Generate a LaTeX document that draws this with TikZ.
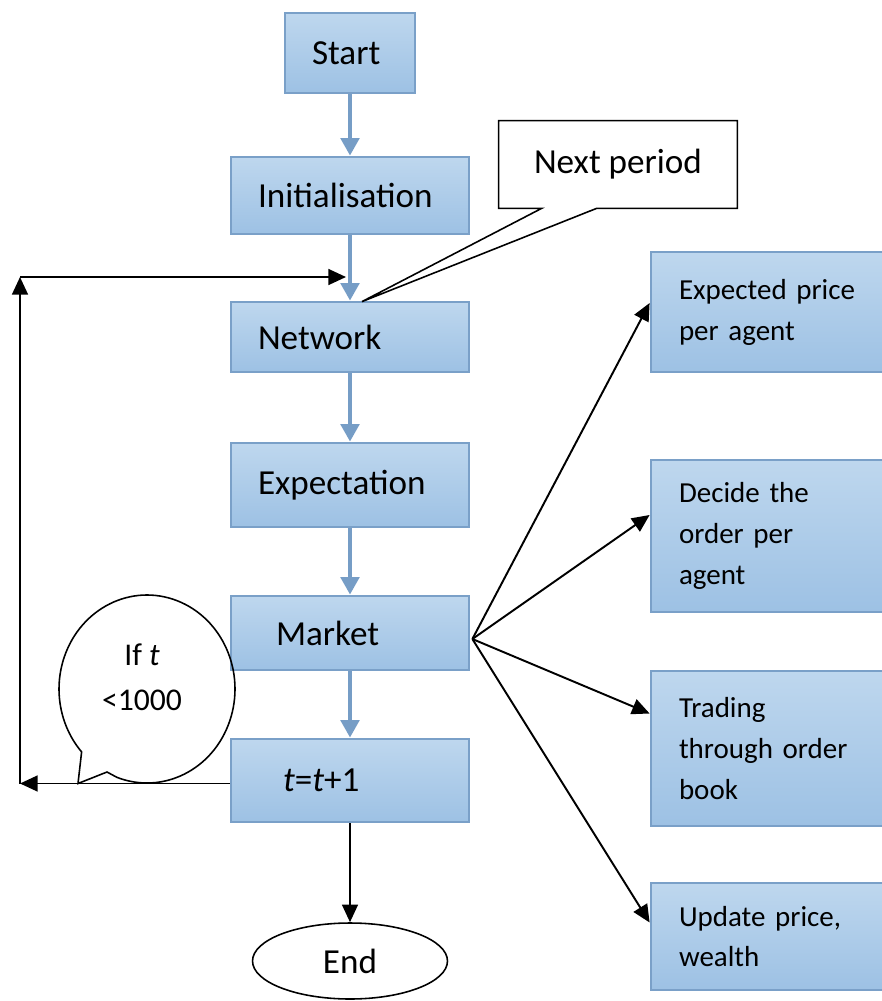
\documentclass[tikz,border=0pt]{standalone}
\usepackage{fontspec}
\setmainfont{Carlito}
\usepackage{xcolor}
\usetikzlibrary{calc,arrows.meta,shapes.geometric}

\definecolor{boxtop}{RGB}{190,215,238}
\definecolor{boxbot}{RGB}{157,193,228}
\definecolor{boxline}{RGB}{122,160,200}
\definecolor{flowblue}{RGB}{118,157,198}

\tikzset{
    flowbox/.style={draw=boxline, line width=1.6pt, top color=boxtop, bottom color=boxbot,
        minimum width=4.76cm, inner xsep=0.54cm, text width=3.68cm, align=left,
        font=\fontsize{20}{24}\selectfont},
    sidebox/.style={draw=boxline, line width=1.6pt, top color=boxtop, bottom color=boxbot,
        minimum width=4.8cm, inner xsep=0.56cm, text width=3.68cm, align=left,
        font=\fontsize{16.5}{23.3}\selectfont},
    flow/.style={draw=flowblue, line width=2.3pt, -{Triangle[length=10pt,width=10.5pt]}},
    blk/.style={line width=1.1pt, -{Triangle[length=10pt,width=9pt]}}
}

\begin{document}
\begin{tikzpicture}[x=0.02cm, y=0.02cm]
    \useasboundingbox (0,0) rectangle (882,-1001);

    % === MAIN COLUMN ===
    \node[flowbox, minimum width=2.6cm, text width=1.52cm, minimum height=1.6cm] (start) at (350,-53) {Start};
    \node[flowbox, minimum height=1.54cm] (init) at (350,-195.5) {Initialisation};
    \node[flowbox, minimum height=1.4cm] (network) at (350,-337) {Network};
    \node[flowbox, minimum height=1.68cm] (expect) at (350,-485) {Expectation};
    \node[flowbox, minimum height=1.48cm] (market) at (350,-633) {\hspace{0.36cm}Market};
    \node[flowbox, minimum height=1.66cm] (tt) at (350,-780.5) {\hspace{0.5cm}\textit{t}=\textit{t}+1};
    \node[draw, ellipse, line width=0.9pt, inner sep=0pt, minimum width=3.9cm, minimum height=1.52cm,
        font=\fontsize{20}{24}\selectfont] (end) at (350,-961) {End};

    \draw[flow] (start) -- (init);
    \draw[flow] (init) -- (network);
    \draw[flow] (network) -- (expect);
    \draw[flow] (expect) -- (market);
    \draw[flow] (market) -- (tt);
    \draw[blk] (tt) -- (end);

    % === RIGHT: STEPS OF THE MARKET ===
    \node[sidebox, minimum height=2.4cm] (exprice) at (771,-312) {Expected price\\per agent};
    \node[sidebox, minimum height=3.04cm] (order) at (771,-536) {Decide the\\order per\\agent};
    \node[sidebox, minimum height=3.1cm] (trading) at (771,-748.5) {Trading\\through order\\book};
    \node[sidebox, minimum height=2.14cm] (update) at (771,-936.5) {Update price,\\wealth};

    \coordinate (fan) at ($(market.east)+(2,-6)$);
    \draw[blk] (fan) -- ($(exprice.west)+(0,9)$);
    \draw[blk] (fan) -- ($(order.west)+(0,21)$);
    \draw[blk] (fan) -- ($(trading.west)+(0,35)$);
    \draw[blk] (fan) -- ($(update.west)+(0,14)$);

    % === LOOP BACK ===
    \coordinate (loopB) at (20,-783.5);
    \coordinate (loopT) at (20,-277);
    \coordinate (loopIn) at (346,-277);
    \draw[blk] ($(tt.west)+(0,-3)$) -- (loopB);
    \draw[blk] (loopB) -- (loopT);
    \draw[blk] (loopT) -- (loopIn);

    % Next period callout
    \node[minimum width=4.76cm, minimum height=1.74cm, font=\fontsize{20}{24}\selectfont] (nextp) at (618,-164.5) {Next period};
    \coordinate (nptip) at ($(network.north)+(12,-1)$);
    \draw[line width=0.9pt] (nextp.north west) -- (nextp.north east) -- (nextp.south east)
        -- ($(nextp.south west)+(98,0)$) -- (nptip) -- ($(nextp.south west)+(43,0)$)
        -- (nextp.south west) -- cycle;

    % Condition bubble
    \coordinate (bub) at (147,-689);
    \draw[line width=0.9pt] ($(bub)+(250:1.76cm and 1.88cm)$) arc[start angle=250, end angle=582, x radius=1.76cm, y radius=1.88cm]
        -- (78,-783.5) -- (107,-772) -- cycle;
    \node[align=center, font=\fontsize{18}{25.6}\selectfont] (cond) at (142,-677) {If \textit{t}\\<1000};
\end{tikzpicture}
\end{document}
